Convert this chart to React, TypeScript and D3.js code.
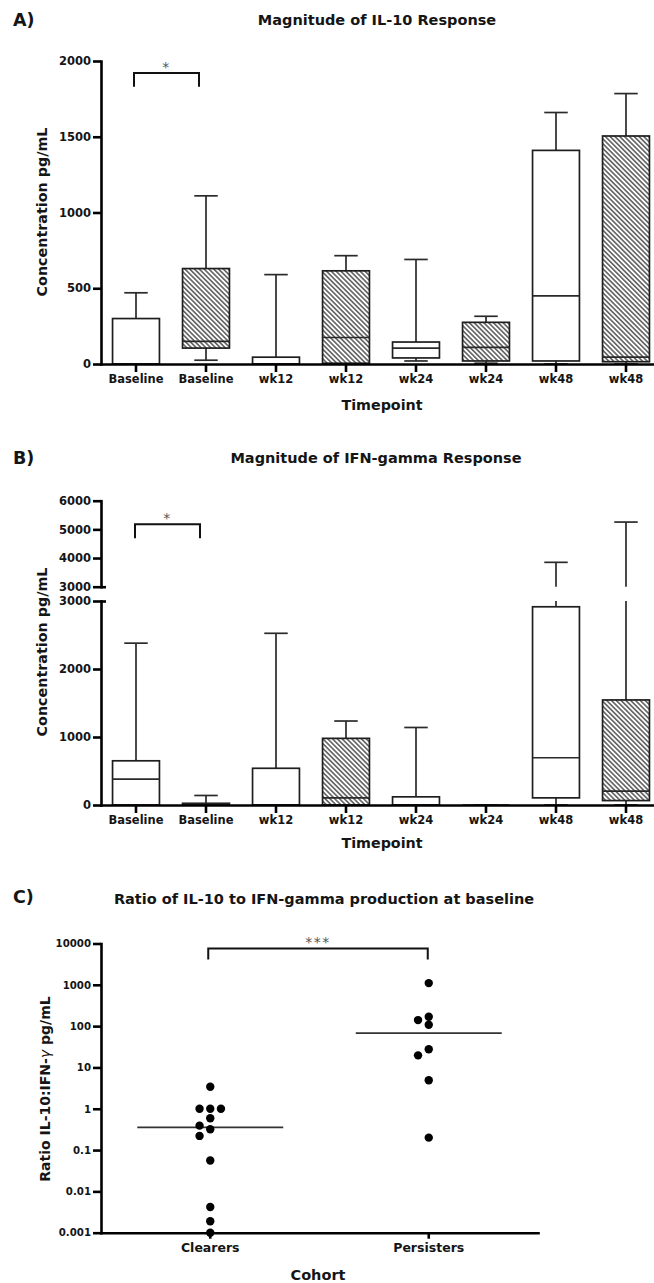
import React, { useEffect, useRef } from "react";
import * as d3 from "d3";

const width = 654;
const height = 1283;
const font = "'DejaVu Sans', Verdana, sans-serif";
const ink = "#151515";

// panels A and B: one box per timepoint and cohort
const timepoints = ["Baseline", "Baseline", "wk12", "wk12", "wk24", "wk24", "wk48", "wk48"];
const groups = ["Clearers", "Persisters", "Clearers", "Persisters", "Clearers", "Persisters", "Clearers", "Persisters"];

// IL-10 pg/mL
const il10Min = [0, 25, 0, 0, 20, 5, 0, 0];
const il10Q1 = [0, 105, 0, 5, 40, 20, 20, 15];
const il10Median = [0, 150, 0, 175, 105, 110, 450, 45];
const il10Q3 = [300, 630, 45, 615, 145, 275, 1410, 1505];
const il10Max = [470, 1110, 590, 715, 690, 315, 1660, 1785];

// IFN-gamma pg/mL
const ifnMin = [0, 0, 0, 0, 0, 0, 0, 0];
const ifnQ1 = [0, 0, 0, 0, 0, 0, 105, 65];
const ifnMedian = [380, 10, 0, 105, 0, 0, 695, 205];
const ifnQ3 = [650, 25, 540, 980, 120, 0, 2915, 1545];
const ifnMax = [2380, 140, 2525, 1235, 1140, 0, 3850, 5255];

const il10Ticks = [0, 500, 1000, 1500, 2000];
const ifnLowTicks = [0, 1000, 2000, 3000];
const ifnHighTicks = [3000, 4000, 5000, 6000];
const ifnBreak = 3000;

// panel C: IL-10 / IFN-gamma ratio at baseline
const cohorts = ["Clearers", "Persisters"];
const clearersRatio = [3.4, 1, 1, 1, 0.59, 0.39, 0.32, 0.22, 0.056, 0.0042, 0.0019, 0.001];
const persistersRatio = [1100, 169, 140, 108, 27.5, 19.6, 4.9, 0.2];
const ratioTicks = [0.001, 0.01, 0.1, 1, 10, 100, 1000, 10000];

type Stats = { min: number[]; q1: number[]; med: number[]; q3: number[]; max: number[] };

const plain = (d: any) => String(d);

const App = () => {
  const ref = useRef<SVGSVGElement>(null);

  useEffect(() => {
    const svg = d3.select(ref.current);
    svg.selectAll("*").remove();

    const pat = svg.append("defs").append("pattern")
      .attr("id", "hatch")
      .attr("patternUnits", "userSpaceOnUse")
      .attr("width", 3.4)
      .attr("height", 3.4)
      .attr("patternTransform", "rotate(-45)");
    pat.append("rect").attr("width", 3.4).attr("height", 3.4).attr("fill", "#fff");
    pat.append("line").attr("x1", 1.7).attr("x2", 1.7).attr("y1", 0).attr("y2", 3.4)
      .attr("stroke", "#222").attr("stroke-width", 1.15);

    const text = (x: number, y: number, s: string, size: number, anchor = "middle", weight = "bold") =>
      svg.append("text")
        .attr("x", x).attr("y", y)
        .attr("text-anchor", anchor)
        .attr("font-family", font)
        .attr("font-weight", weight)
        .attr("font-size", size)
        .attr("fill", ink)
        .text(s);

    const yTitle = (x: number, y: number, s: string) =>
      svg.append("text")
        .attr("transform", `translate(${x},${y}) rotate(-90)`)
        .attr("text-anchor", "middle")
        .attr("font-family", font)
        .attr("font-weight", "bold")
        .attr("font-size", 14.3)
        .attr("fill", ink)
        .text(s);

    const styleAxis = (g: any, size: number) => {
      g.select(".domain").attr("stroke", "#000").attr("stroke-width", 2.6).attr("stroke-linecap", "square");
      g.selectAll(".tick line").attr("stroke", "#000").attr("stroke-width", 2.6);
      g.selectAll(".tick text")
        .attr("fill", ink)
        .attr("font-family", font)
        .attr("font-weight", "bold")
        .attr("font-size", size);
    };

    const bracket = (x1: number, x2: number, yTop: number, yBot: number, stars: string) => {
      svg.append("path")
        .attr("d", `M${x1},${yBot}V${yTop}H${x2}V${yBot}`)
        .attr("fill", "none")
        .attr("stroke", "#111")
        .attr("stroke-width", 2);
      svg.append("text")
        .attr("x", (x1 + x2) / 2).attr("y", yTop - 1)
        .attr("text-anchor", "middle")
        .attr("font-family", font)
        .attr("font-size", 14)
        .attr("letter-spacing", 1.5)
        .attr("fill", "#555")
        .text(stars);
    };

    const axisX = 101;
    const x = d3.scaleBand<number>()
      .domain(d3.range(timepoints.length))
      .range([axisX, 661])
      .paddingInner(0.33)
      .paddingOuter(0.165);
    const bw = x.bandwidth();

    const drawBoxes = (
      yOf: (v: number) => number,
      segs: (a: number, b: number) => [number, number][],
      s: Stats
    ) => {
      const g = svg.append("g");
      timepoints.forEach((_, i) => {
        const x0 = x(i)!;
        const cx = x0 + bw / 2;
        const line = (x1: number, y1: number, x2: number, y2: number) =>
          g.append("line")
            .attr("x1", x1).attr("y1", y1).attr("x2", x2).attr("y2", y2)
            .attr("stroke", "#2a2a2a").attr("stroke-width", 1.7);
        segs(s.q3[i], s.max[i]).forEach(([a, b]) => line(cx, a, cx, b));
        line(cx - bw / 4, yOf(s.max[i]), cx + bw / 4, yOf(s.max[i]));
        if (s.min[i] < s.q1[i]) {
          line(cx, yOf(s.q1[i]), cx, yOf(s.min[i]));
          line(cx - bw / 4, yOf(s.min[i]), cx + bw / 4, yOf(s.min[i]));
        }
        g.append("rect")
          .attr("x", x0)
          .attr("y", yOf(s.q3[i]))
          .attr("width", bw)
          .attr("height", yOf(s.q1[i]) - yOf(s.q3[i]))
          .attr("fill", groups[i] === "Persisters" ? "url(#hatch)" : "#fff")
          .attr("stroke", "#1e1e1e")
          .attr("stroke-width", 1.7);
        line(x0, yOf(s.med[i]), x0 + bw, yOf(s.med[i]));
      });
    };

    const xAxis = (y0: number) => {
      const g = svg.append("g")
        .attr("transform", `translate(0,${y0})`)
        .call(d3.axisBottom(x).tickFormat((i) => timepoints[i as number]).tickSize(8).tickPadding(3).tickSizeOuter(0));
      styleAxis(g, 11.5);
    };

    // ---------- A) IL-10 ----------
    const yA = d3.scaleLinear().domain([0, 2000]).range([364, 61]);
    drawBoxes(yA, (a, b) => [[yA(a), yA(b)]], { min: il10Min, q1: il10Q1, med: il10Median, q3: il10Q3, max: il10Max });
    styleAxis(
      svg.append("g").attr("transform", `translate(${axisX},0)`)
        .call(d3.axisLeft(yA).tickValues(il10Ticks).tickFormat(plain).tickSize(8).tickPadding(2).tickSizeOuter(0)),
      11.5
    );
    xAxis(364);
    bracket(x(0)! + bw / 2 - 2, x(1)! + bw / 2 - 7, yA(1920), yA(1830), "*");
    text(13, 26, "A)", 17.5, "start");
    text(377, 24.5, "Magnitude of IL-10 Response", 14.5);
    text(382, 410, "Timepoint", 14.3);
    yTitle(47, 212, "Concentration pg/mL");

    // ---------- B) IFN-gamma (broken axis) ----------
    const yLow = d3.scaleLinear().domain([0, ifnBreak]).range([805, 601]);
    const yHigh = d3.scaleLinear().domain([ifnBreak, 6000]).range([586.7, 500.7]);
    const yB = (v: number) => (v <= ifnBreak ? yLow(v) : yHigh(v));
    const segB = (a: number, b: number): [number, number][] =>
      b <= ifnBreak ? [[yLow(a), yLow(b)]] : [[yLow(a), yLow(ifnBreak)], [yHigh(ifnBreak), yHigh(b)]];
    drawBoxes(yB, segB, { min: ifnMin, q1: ifnQ1, med: ifnMedian, q3: ifnQ3, max: ifnMax });
    [
      [yLow, ifnLowTicks],
      [yHigh, ifnHighTicks],
    ].forEach(([sc, ticks]: any) => {
      const g = svg.append("g").attr("transform", `translate(${axisX},0)`)
        .call(d3.axisLeft(sc).tickValues(ticks).tickFormat(plain).tickSize(8).tickPadding(2).tickSizeOuter(0));
      styleAxis(g, 11.5);
      g.selectAll(".tick").filter((d: any) => d === ifnBreak).select("line").attr("x1", 5);
    });
    xAxis(805);
    bracket(x(0)! + bw / 2 - 1, x(1)! + bw / 2 - 6, yHigh(5180), yHigh(4690), "*");
    text(13, 464, "B)", 17.5, "start");
    text(376, 462.5, "Magnitude of IFN-gamma Response", 14.5);
    text(382, 848, "Timepoint", 14.3);
    yTitle(47, 652, "Concentration pg/mL");

    // ---------- C) ratio ----------
    const xC = d3.scaleBand<string>().domain(cohorts).range([axisX, 538]);
    const yC = d3.scaleLog().domain([0.001, 10000]).range([1232.7, 943.5]);
    const r = 4.2;

    const dodge = (values: number[]) => {
      const placed: { y: number; slot: number }[] = [];
      const order = [0, -1, 1, -2, 2, -3, 3];
      return values.slice().sort((a, b) => b - a).map((v) => {
        const yy = yC(v);
        const slot = order.find((s) => !placed.some((p) => p.slot === s && Math.abs(p.y - yy) < 2 * r - 0.5)) ?? 0;
        placed.push({ y: yy, slot });
        return { y: yy, dx: slot * 10.7 };
      });
    };

    const gC = svg.append("g");
    [clearersRatio, persistersRatio].forEach((vals, k) => {
      const cx = xC(cohorts[k])! + xC.bandwidth() / 2;
      const med = d3.median(vals)!;
      gC.append("line")
        .attr("x1", cx - 73).attr("x2", cx + 73)
        .attr("y1", yC(med)).attr("y2", yC(med))
        .attr("stroke", "#333").attr("stroke-width", 1.6);
      gC.selectAll(null)
        .data(dodge(vals))
        .join("circle")
        .attr("cx", (d) => cx + d.dx)
        .attr("cy", (d) => d.y)
        .attr("r", r)
        .attr("fill", "#000");
    });

    styleAxis(
      svg.append("g").attr("transform", `translate(${axisX},0)`)
        .call(d3.axisLeft(yC).tickValues(ratioTicks).tickFormat(plain).tickSize(8).tickPadding(2).tickSizeOuter(0)),
      10.2
    );
    const gx = svg.append("g")
      .attr("transform", `translate(0,${yC(0.001)})`)
      .call(d3.axisBottom(xC).tickSize(6).tickPadding(4).tickSizeOuter(0));
    styleAxis(gx, 12.5);

    bracket(xC("Clearers")! + xC.bandwidth() / 2 - 2, xC("Persisters")! + xC.bandwidth() / 2 - 1, yC(7600), yC(4100), "***");
    text(13, 903, "C)", 17.5, "start");
    text(324, 903.5, "Ratio of IL-10 to IFN-gamma production at baseline", 14.5);
    text(318, 1280, "Cohort", 14.5);

    const lab = svg.append("text")
      .attr("transform", "translate(50,1089) rotate(-90)")
      .attr("text-anchor", "middle")
      .attr("font-family", font)
      .attr("font-weight", "bold")
      .attr("font-size", 14)
      .attr("fill", ink);
    lab.append("tspan").text("Ratio IL-10:IFN-");
    lab.append("tspan").attr("font-weight", "normal").attr("font-style", "italic").text("γ");
    lab.append("tspan").text(" pg/mL");
  }, []);

  return (
    <svg
      ref={ref}
      width={width}
      height={height}
      style={{ position: "absolute", left: 0, top: 0, background: "#fff" }}
    />
  );
};

export default App;
